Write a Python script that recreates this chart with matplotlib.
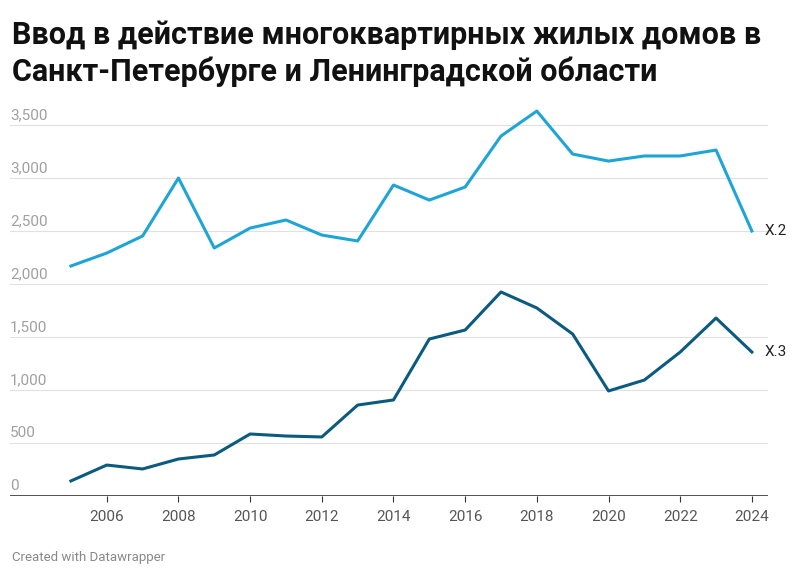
import matplotlib
matplotlib.use("Agg")
import matplotlib.pyplot as plt

years = list(range(2005, 2025))
x2 = [2170, 2292, 2453, 3000, 2340, 2528, 2604, 2462, 2406, 2934, 2792, 2915, 3396, 3632, 3226, 3160, 3208, 3208, 3264, 2500]
x3 = [142, 292, 255, 349, 387, 585, 566, 557, 858, 906, 1481, 1566, 1925, 1774, 1528, 991, 1094, 1358, 1679, 1358]
yticks = [0, 500, 1000, 1500, 2000, 2500, 3000, 3500]
xticks = list(range(2006, 2025, 2))
title = "Ввод в действие многоквартирных жилых домов в\nСанкт-Петербурге и Ленинградской области"

plt.rcParams["font.family"] = "Roboto"
W, H = 800, 579
fig = plt.figure(figsize=(W/100, H/100), dpi=100)
ax = fig.add_axes([10/W, 1-496/H, 758/W, 391/H])
ax.set_xlim(2003.30, 2024.45)
ax.set_ylim(0, 3689)
for t in yticks:
    ax.axhline(t, color="#333333" if t == 0 else "#e1e1e1", lw=1.2 if t == 0 else 0.8, zorder=1)
    ax.text(2003.30, t + 30, f"{t:,}", color="#a0a0a0", fontsize=11, ha="left", va="bottom")
ax.plot(years, x2, color="#1ea5d6", lw=2.2, zorder=3)
ax.plot(years, x3, color="#0b5a80", lw=2.2, zorder=3)
ax.text(years[-1] + 0.35, x2[-1], "X.2", fontsize=11, va="center", color="#222222")
ax.text(years[-1] + 0.35, x3[-1], "X.3", fontsize=11, va="center", color="#222222")
for s in ax.spines.values():
    s.set_visible(False)
ax.set_yticks([])
ax.set_xticks(xticks)
ax.set_xticklabels([str(t) for t in xticks])
ax.tick_params(axis="x", length=4, color="#333333", labelsize=11, labelcolor="#555555", pad=6)
fig.text(12/W, 1-20/H, title, fontsize=22, fontweight="bold", va="top", ha="left", color="#111111", linespacing=1.25)
fig.text(12/W, 1-557/H, "Created with Datawrapper", fontsize=9.5, color="#888888", va="center")
fig.savefig("out.png", dpi=100, facecolor="white")
